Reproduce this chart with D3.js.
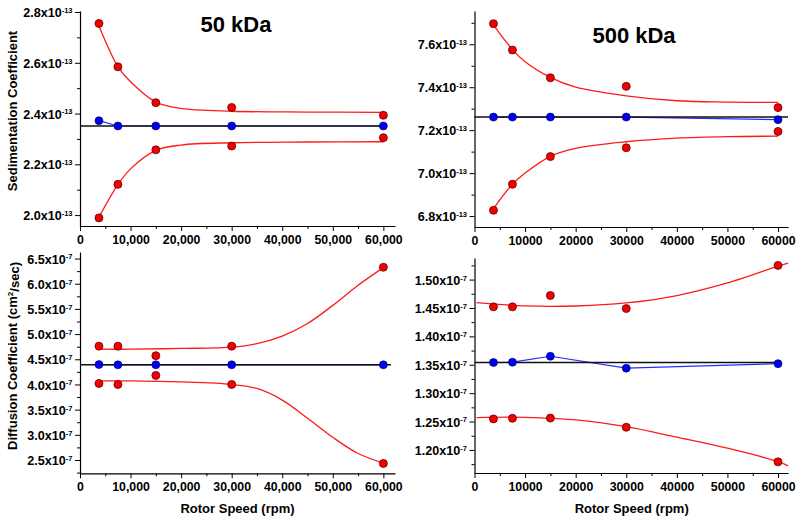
<!DOCTYPE html>
<html>
<head>
<meta charset="utf-8">
<script src="https://cdn.jsdelivr.net/npm/d3@7"></script>
<style>
  html, body { margin: 0; padding: 0; background: #fff; }
  svg { display: block; font-family: "Liberation Sans", Arial, sans-serif; font-weight: bold; }
</style>
</head>
<body>
<svg id="chart" width="800" height="519"></svg>
<script>
// ---- Data ----
const speeds = [3750, 7500, 15000, 30000, 60000];

// 50 kDa sedimentation (x1e-13)
const sed50Upper = [2.755, 2.584, 2.443, 2.424, 2.393];
const sed50Lower = [1.989, 2.121, 2.257, 2.272, 2.305];
const sed50Mean  = [2.372, 2.351, 2.351, 2.351, 2.351];
const sed50Ref   = 2.351;
const sed50FitX     = [3750, 7500, 10000, 15000, 20000, 30000, 45000, 60000];
const sed50FitUpper = [2.745, 2.585, 2.525, 2.445, 2.420, 2.409, 2.406, 2.405];
const sed50FitLower = [1.992, 2.120, 2.182, 2.255, 2.276, 2.285, 2.288, 2.289];

// 500 kDa sedimentation (x1e-13)
const sed500Upper = [7.696, 7.573, 7.444, 7.404, 7.305];
const sed500Lower = [6.827, 6.948, 7.077, 7.118, 7.194];
const sed500Mean  = [7.261, 7.261, 7.261, 7.261, 7.249];
const sed500Ref   = 7.261;
const sed500FitX     = [3750, 7500, 10000, 15000, 20000, 30000, 40000, 50000, 60000];
const sed500FitUpper = [7.690, 7.575, 7.519, 7.446, 7.400, 7.360, 7.337, 7.331, 7.329];
const sed500FitLower = [6.835, 6.948, 7.000, 7.078, 7.115, 7.146, 7.163, 7.170, 7.172];

// 50 kDa diffusion (x1e-7)
const dif50Upper = [4.76, 4.76, 4.571, 4.76, 6.327];
const dif50Lower = [4.02, 4.00, 4.18, 4.00, 2.432];
const dif50Mean  = [4.395, 4.39, 4.39, 4.39, 4.39];
const dif50Ref   = 4.39;
const dif50FitX     = [3750, 10000, 20000, 30000, 35000, 40000, 45000, 50000, 55000, 60000];
const dif50FitUpper = [4.70, 4.70, 4.715, 4.74, 4.81, 4.96, 5.21, 5.57, 5.97, 6.32];
const dif50FitLower = [4.07, 4.07, 4.05, 4.00, 3.92, 3.69, 3.33, 2.95, 2.63, 2.44];

// 500 kDa diffusion (x1e-7)
const dif500Upper = [1.452, 1.452, 1.472, 1.449, 1.525];
const dif500Lower = [1.2547, 1.2557, 1.2561, 1.240, 1.179];
const dif500Mean  = [1.354, 1.3545, 1.365, 1.344, 1.352];
const dif500Ref   = 1.354;
const dif500FitX     = [400, 10000, 20000, 30000, 40000, 50000, 60000, 62000];
const dif500FitUpper = [1.4594, 1.4536, 1.4535, 1.4588, 1.4718, 1.494, 1.5235, 1.529];
const dif500FitLower = [1.257, 1.2575, 1.253, 1.241, 1.2224, 1.203, 1.1794, 1.172];

// Tick labels
const xTicks = [0, 10000, 20000, 30000, 40000, 50000, 60000];
const sed50YTicks  = [2.0, 2.2, 2.4, 2.6, 2.8];
const sed500YTicks = [6.8, 7.0, 7.2, 7.4, 7.6];
const dif50YTicks  = [2.5, 3.0, 3.5, 4.0, 4.5, 5.0, 5.5, 6.0, 6.5];
const dif500YTicks = [1.20, 1.25, 1.30, 1.35, 1.40, 1.45, 1.50];

const titles = ["50 kDa", "500 kDa"];
const yTitleSed = "Sedimentation Coefficient";
const xTitle = "Rotor Speed (rpm)";

// ---- Drawing ----
const svg = d3.select("#chart");

const panels = [
  { left: 80, right: 395, top: 11, bottom: 226, xMax: 62300, yDomain: [1.957, 2.804],
    yTicks: sed50YTicks, minorStep: 0.1, dec: 1, exp: "-13", xFmt: d3.format(","),
    upper: sed50Upper, lower: sed50Lower, mean: sed50Mean, ref: sed50Ref, refX: [0, 60500],
    fitX: sed50FitX, fitU: sed50FitUpper, fitL: sed50FitLower },
  { left: 474.5, right: 788, top: 11, bottom: 227, xMax: 61975, yDomain: [6.749, 7.755],
    yTicks: sed500YTicks, minorStep: 0.1, dec: 1, exp: "-13", xFmt: d3.format("d"),
    upper: sed500Upper, lower: sed500Lower, mean: sed500Mean, ref: sed500Ref, refX: [0, 61975],
    fitX: sed500FitX, fitU: sed500FitUpper, fitL: sed500FitLower },
  { left: 80, right: 395, top: 252, bottom: 473.3, xMax: 62300, yDomain: [2.236, 6.63],
    yTicks: dif50YTicks, minorStep: 0.25, dec: 1, exp: "-7", xFmt: d3.format(","),
    upper: dif50Upper, lower: dif50Lower, mean: dif50Mean, ref: dif50Ref, refX: [0, 61500],
    fitX: dif50FitX, fitU: dif50FitUpper, fitL: dif50FitLower },
  { left: 474.5, right: 788, top: 258, bottom: 473, xMax: 61975, yDomain: [1.1594, 1.538],
    yTicks: dif500YTicks, minorStep: 0.025, dec: 2, exp: "-7", xFmt: d3.format("d"),
    upper: dif500Upper, lower: dif500Lower, mean: dif500Mean, ref: dif500Ref, refX: [0, 60500],
    fitX: dif500FitX, fitU: dif500FitUpper, fitL: dif500FitLower }
];

function styleAxis(g) {
  g.select(".domain").attr("stroke", "#000").attr("stroke-width", 1.2);
  g.selectAll(".tick line").attr("stroke", "#000").attr("stroke-width", 1);
}

panels.forEach((p, i) => {
  const x = d3.scaleLinear().domain([0, p.xMax]).range([p.left, p.right]);
  const y = d3.scaleLinear().domain(p.yDomain).range([p.bottom, p.top]);
  const g = svg.append("g");

  // minor ticks
  const minorY = d3.range(p.yTicks[0] - p.minorStep, p.yDomain[1], p.minorStep * 2)
    .filter(v => v > p.yDomain[0] && v < p.yDomain[1]);
  const minorX = d3.range(5000, p.xMax, 10000);
  g.append("g").attr("transform", `translate(${p.left},0)`)
    .call(d3.axisLeft(y).tickValues(minorY).tickSize(3).tickFormat(""))
    .call(gg => { gg.select(".domain").remove(); gg.selectAll("line").attr("stroke", "#000"); });
  g.append("g").attr("transform", `translate(0,${p.bottom})`)
    .call(d3.axisBottom(x).tickValues(minorX).tickSize(3).tickFormat(""))
    .call(gg => { gg.select(".domain").remove(); gg.selectAll("line").attr("stroke", "#000"); });

  // y axis
  const ya = g.append("g").attr("transform", `translate(${p.left},0)`)
    .call(d3.axisLeft(y).tickValues(p.yTicks).tickSize(5).tickSizeOuter(0).tickPadding(4).tickFormat(""))
    .call(styleAxis);
  ya.selectAll(".tick").each(function(d) {
    const t = d3.select(this).append("text")
      .attr("x", -7.5).attr("dy", "0.36em")
      .attr("text-anchor", "end").attr("fill", "#000")
      .style("font-size", "12.6px").style("font-weight", "bold");
    t.append("tspan").text(d.toFixed(p.dec) + "x10");
    t.append("tspan").attr("dy", "-0.55em").style("font-size", "7.5px").text(p.exp);
  });

  // x axis
  g.append("g").attr("transform", `translate(0,${p.bottom})`)
    .call(d3.axisBottom(x).tickValues(xTicks).tickSize(5).tickSizeOuter(0).tickPadding(4).tickFormat(p.xFmt))
    .call(styleAxis)
    .call(gg => gg.selectAll("text").attr("fill", "#000").style("font-size", "12.3px").style("font-weight", "bold"));

  // fit curves
  const fit = d3.line().x(d => x(d[0])).y(d => y(d[1])).curve(d3.curveCatmullRom.alpha(0.5));
  [p.fitU, p.fitL].forEach(arr => {
    g.append("path").datum(p.fitX.map((v, k) => [v, arr[k]]))
      .attr("d", fit).attr("fill", "none").attr("stroke", "#ff1a1a").attr("stroke-width", 1.3);
  });

  // mean line (blue)
  const lin = d3.line().x(d => x(d[0])).y(d => y(d[1]));
  g.append("path").datum(speeds.map((v, k) => [v, p.mean[k]]))
    .attr("d", lin).attr("fill", "none").attr("stroke", "#2a2aff").attr("stroke-width", 1.2);

  // reference line (black)
  g.append("path").datum(p.refX.map(v => [v, p.ref]))
    .attr("d", lin).attr("fill", "none").attr("stroke", "#111").attr("stroke-width", 1.5);

  // dots
  [p.upper, p.lower].forEach(arr => {
    g.selectAll(null).data(speeds.map((v, k) => [v, arr[k]])).enter().append("circle")
      .attr("cx", d => x(d[0])).attr("cy", d => y(d[1])).attr("r", 4)
      .attr("fill", "#f00000").attr("stroke", "#6a0000").attr("stroke-width", 0.8);
  });
  g.selectAll(null).data(speeds.map((v, k) => [v, p.mean[k]])).enter().append("circle")
    .attr("cx", d => x(d[0])).attr("cy", d => y(d[1])).attr("r", 4)
    .attr("fill", "#0000f0").attr("stroke", "#000060").attr("stroke-width", 0.6);
});

// Titles
svg.append("text").attr("x", 236).attr("y", 32).attr("text-anchor", "middle")
  .style("font-size", "22px").text(titles[0]);
svg.append("text").attr("x", 634).attr("y", 42.5).attr("text-anchor", "middle")
  .style("font-size", "22px").text(titles[1]);

// Axis titles
svg.append("text").attr("transform", "translate(16.5,111) rotate(-90)").attr("text-anchor", "middle")
  .style("font-size", "13px").text(yTitleSed);
const dt = svg.append("text").attr("transform", "translate(16.5,356) rotate(-90)").attr("text-anchor", "middle")
  .style("font-size", "13px");
dt.append("tspan").text("Diffusion Coefficient (cm");
dt.append("tspan").attr("dy", "-0.5em").style("font-size", "8px").text("2");
dt.append("tspan").attr("dy", "0.5em").text("/sec)");

svg.append("text").attr("x", 237.5).attr("y", 513).attr("text-anchor", "middle")
  .style("font-size", "13px").text(xTitle);
svg.append("text").attr("x", 631.7).attr("y", 513).attr("text-anchor", "middle")
  .style("font-size", "13px").text(xTitle);
</script>
</body>
</html>
